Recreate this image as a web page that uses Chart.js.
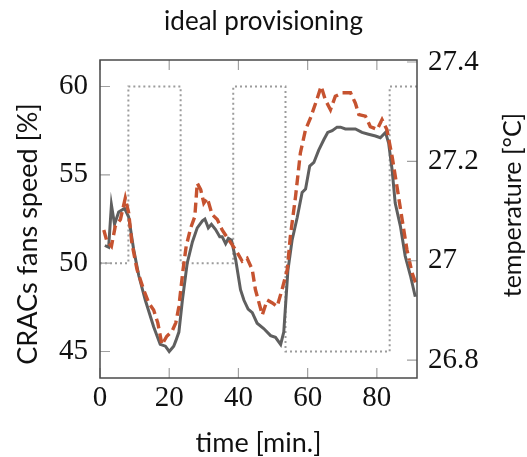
<!DOCTYPE html>
<html>
<head>
<meta charset="utf-8">
<script src="https://cdn.jsdelivr.net/npm/chart.js@4"></script>
<style>
  html, body { margin: 0; padding: 0; background: #fff; }
  #wrap { width: 527px; height: 457px; }
</style>
</head>
<body>
<div id="wrap"><canvas id="chart" width="527" height="457"></canvas></div>
<script>
// fan speed [%] (solid grey line)
const fanTime = [1.4, 2.5, 3.3, 4.2, 5.4, 7.1, 8.3, 9.7, 11.2, 13.1, 15.5, 17.4, 18.9, 20.0, 21.3, 21.9,
  22.8, 23.8, 25.2, 26.7, 28.1, 29.6, 30.3, 31.3, 32.2, 33.4, 34.6, 35.3, 36.3, 37.1, 38.0, 39.2,
  40.6, 41.6, 42.8, 44.0, 45.4, 47.3, 49.3, 50.7, 52.2, 53.1, 54.3, 55.5, 57.0, 58.4, 59.4, 60.6,
  61.8, 63.2, 64.7, 65.8, 67.1, 68.5, 69.5, 70.9, 72.4, 73.8, 75.7, 77.6, 79.6, 81.0, 82.5, 83.4,
  84.4, 85.3, 86.8, 88.2, 89.7, 91.1];
const fanSpeed = [51.0, 50.9, 53.3, 52.2, 52.9, 53.1, 52.6, 50.8, 49.3, 47.9, 46.4, 45.4, 45.3, 45.0, 45.3, 45.6,
  46.1, 47.9, 50.0, 51.2, 52.0, 52.4, 52.5, 52.0, 52.2, 51.9, 51.5, 51.5, 51.1, 51.4, 51.3, 50.2,
  48.5, 47.9, 47.4, 47.2, 46.6, 46.3, 45.9, 45.8, 45.4, 46.1, 49.6, 51.3, 52.6, 54.0, 54.2, 55.5,
  55.7, 56.4, 57.0, 57.4, 57.5, 57.7, 57.7, 57.6, 57.6, 57.6, 57.4, 57.3, 57.2, 57.1, 57.4, 56.8,
  55.3, 53.4, 52.1, 50.4, 49.3, 48.1];

// temperature [°C] (dashed red line)
const tempTime = [1.1, 2.0, 3.3, 4.4, 5.9, 7.3, 8.3, 9.2, 10.7, 12.6, 14.1, 15.5, 16.7, 17.9, 19.3, 20.8,
  21.9, 22.8, 24.0, 24.9, 26.2, 27.4, 28.1, 29.1, 30.0, 31.0, 32.4, 33.9, 35.3, 37.2, 39.2, 41.1,
  42.5, 44.0, 44.9, 46.9, 48.3, 49.8, 51.2, 52.6, 54.1, 55.0, 56.5, 57.9, 59.4, 60.8, 62.3, 63.9,
  65.1, 66.6, 68.0, 70.0, 72.4, 73.8, 74.8, 76.7, 78.1, 80.1, 81.5, 82.9, 84.4, 85.8, 87.3, 88.7,
  90.2, 91.6];
const temperature = [27.062, 27.039, 27.029, 27.069, 27.083, 27.126, 27.096, 27.036, 26.982, 26.942, 26.915, 26.901, 26.875, 26.831, 26.848, 26.858,
  26.875, 26.908, 26.982, 27.029, 27.066, 27.089, 27.156, 27.143, 27.116, 27.126, 27.093, 27.083, 27.062, 27.042, 27.022, 26.999,
  27.005, 26.982, 26.942, 26.891, 26.921, 26.915, 26.908, 26.942, 26.982, 27.049, 27.129, 27.217, 27.264, 27.287, 27.317, 27.351,
  27.324, 27.304, 27.331, 27.338, 27.338, 27.317, 27.294, 27.291, 27.270, 27.264, 27.284, 27.264, 27.210, 27.150, 27.083, 27.022,
  26.975, 26.948];

// ideal provisioning step (dotted grey line)
const stepTime = [0, 8.2, 8.2, 23.3, 23.3, 38.5, 38.5, 53.6, 53.6, 83.7, 83.7, 92];
const stepSpeed = [50, 50, 60, 60, 50, 50, 60, 60, 45, 45, 60, 60];

const xTicks = [0, 20, 40, 60, 80];
const fanTicks = [45, 50, 55, 60];
const tempTicks = [26.8, 27, 27.2, 27.4];

const fanLabel = 'CRACs fans speed [%]';
const tempLabel = 'temperature [°C]';

function toPoints(xs, ys) {
  return xs.map((x, i) => ({ x: x, y: ys[i] }));
}

const sans = 'Lato, "DejaVu Sans", sans-serif';
const serif = '"Liberation Serif", "DejaVu Serif", serif';

// frame round the plot, the short inward tick marks, and the two y titles
// (both read bottom to top, which Chart.js does not do for a right axis)
const frameTicks = {
  id: 'frameTicks',
  afterDraw(chart) {
    const { ctx, chartArea: a, scales } = chart;
    const len = 10;
    ctx.save();
    ctx.strokeStyle = '#a0a0a0';
    ctx.lineWidth = 1.2;
    ctx.beginPath();
    scales.x.ticks.forEach(t => {
      const px = scales.x.getPixelForValue(t.value);
      ctx.moveTo(px, a.bottom); ctx.lineTo(px, a.bottom - len);
      ctx.moveTo(px, a.top); ctx.lineTo(px, a.top + len);
    });
    scales.y.ticks.forEach(t => {
      const py = scales.y.getPixelForValue(t.value);
      ctx.moveTo(a.left, py); ctx.lineTo(a.left + len, py);
    });
    scales.y1.ticks.forEach(t => {
      const py = scales.y1.getPixelForValue(t.value);
      ctx.moveTo(a.right, py); ctx.lineTo(a.right - len, py);
    });
    ctx.stroke();
    ctx.strokeStyle = '#4a4a4a';
    ctx.lineWidth = 1.5;
    ctx.strokeRect(a.left, a.top, a.right - a.left, a.bottom - a.top);

    ctx.fillStyle = '#111';
    ctx.textAlign = 'center';
    ctx.textBaseline = 'middle';
    ctx.font = '27px ' + sans;
    ctx.translate(28, 234);
    ctx.rotate(-Math.PI / 2);
    ctx.fillText(fanLabel, 0, 0);
    ctx.setTransform(1, 0, 0, 1, 0, 0);
    ctx.font = '25px ' + sans;
    ctx.translate(513, 205);
    ctx.rotate(-Math.PI / 2);
    ctx.fillText(tempLabel, 0, 0);
    ctx.restore();
  }
};

function keepTicks(list) {
  return scale => {
    scale.ticks = list.map(v => ({ value: v }));
  };
}

new Chart(document.getElementById('chart').getContext('2d'), {
  type: 'line',
  data: {
    datasets: [
      {
        label: 'temperature',
        data: toPoints(tempTime, temperature),
        yAxisID: 'y1',
        borderColor: '#c65330',
        borderWidth: 3.4,
        borderDash: [10, 5],
        pointRadius: 0,
        tension: 0
      },
      {
        label: 'fans speed',
        data: toPoints(fanTime, fanSpeed),
        yAxisID: 'y',
        borderColor: '#5f5f5f',
        borderWidth: 3,
        pointRadius: 0,
        tension: 0
      },
      {
        label: 'ideal provisioning',
        data: toPoints(stepTime, stepSpeed),
        yAxisID: 'y',
        borderColor: '#9c9c9c',
        borderWidth: 2,
        borderDash: [2, 3],
        pointRadius: 0,
        tension: 0
      }
    ]
  },
  options: {
    responsive: false,
    animation: false,
    layout: { padding: 0 },
    plugins: {
      legend: { display: false },
      tooltip: { enabled: false },
      title: {
        display: true,
        text: 'ideal provisioning',
        color: '#111',
        font: { family: sans, size: 26, weight: 'normal', lineHeight: 1.2 },
        padding: { top: 6, bottom: 22.8 }
      }
    },
    scales: {
      x: {
        type: 'linear',
        min: 0,
        max: 91.6,
        grid: { display: false, drawTicks: false },
        border: { display: false },
        afterBuildTicks: keepTicks(xTicks),
        afterFit: s => { s.height = 79; },
        ticks: { padding: 3, color: '#111', font: { family: serif, size: 29 } },
        title: {
          display: true,
          text: 'time [min.]',
          color: '#111',
          font: { family: sans, size: 27 },
          padding: { top: 0, bottom: -2 }
        }
      },
      y: {
        type: 'linear',
        position: 'left',
        min: 43.5,
        max: 61.5,
        grid: { display: false, drawTicks: false },
        border: { display: false },
        afterBuildTicks: keepTicks(fanTicks),
        afterFit: s => { s.width = 100; },
        ticks: { padding: 12, color: '#111', font: { family: serif, size: 29 } }
      },
      y1: {
        type: 'linear',
        position: 'right',
        min: 26.764,
        max: 27.404,
        grid: { display: false, drawTicks: false },
        border: { display: false },
        afterBuildTicks: keepTicks(tempTicks),
        afterFit: s => { s.width = 110; },
        ticks: {
          padding: 11,
          color: '#111',
          font: { family: serif, size: 29 },
          callback: v => String(Number(v.toFixed(1)))
        }
      }
    }
  },
  plugins: [frameTicks]
});
</script>
</body>
</html>
